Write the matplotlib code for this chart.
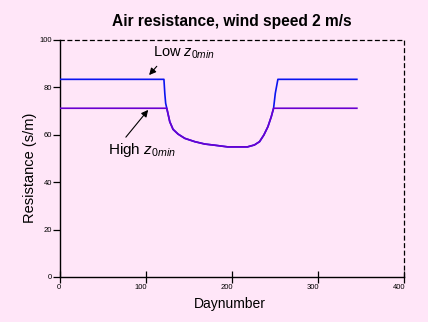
import numpy as np
import matplotlib
matplotlib.use("Agg")
import matplotlib.pyplot as plt
from matplotlib.transforms import ScaledTranslation

# ── Data ─────────────────────────────────────────────────────
low_day = [0, 121, 122, 123, 124.3, 127.8, 131.6, 137.4, 145.2, 156.8, 168.4,
           180, 195, 218, 226, 232, 237, 241.7, 245.6, 248.3, 250.3, 253.3, 345]
low_val = [83.4, 83.4, 77.5, 73.3, 71.2, 65.5, 62.3, 60.3, 58.5, 57.1, 56.1,
           55.6, 54.9, 54.9, 55.7, 57.1, 59.9, 63.4, 67.6, 71.2, 77.5, 83.4, 83.4]

high_day = [0, 124.3, 127.8, 131.6, 137.4, 145.2, 156.8, 168.4,
            180, 195, 218, 226, 232, 237, 241.7, 245.6, 248.3, 345]
high_val = [71.2, 71.2, 65.5, 62.3, 60.3, 58.5, 57.1, 56.1,
            55.6, 54.9, 54.9, 55.7, 57.1, 59.9, 63.4, 67.6, 71.2, 71.2]

x_ticks = [0, 100, 200, 300, 400]
y_ticks = [0, 20, 40, 60, 80, 100]

# ── Style ────────────────────────────────────────────────────
bg = "#ffe6f8"
plt.rcParams.update({
    "font.family": ["Liberation Sans", "DejaVu Sans"],
    "figure.facecolor": bg,
    "axes.facecolor": bg,
    "mathtext.fontset": "custom",
    "mathtext.rm": "Liberation Sans",
    "mathtext.it": "Liberation Sans:italic",
})

fig = plt.figure(figsize=(4.28, 3.22), dpi=100)
ax = fig.add_axes([0.1395, 0.1398, 0.805, 0.736])

ax.plot(low_day, low_val, color="#0a14f0", lw=1.2, zorder=3)
ax.plot(high_day, high_val, color="#6a00d0", lw=1.2, zorder=4)

ax.set_xlim(0, 400)
ax.set_ylim(0, 100)
ax.set_xticks(x_ticks)
ax.set_yticks(y_ticks)
ax.tick_params(axis="x", direction="inout", length=8, width=0.9,
               labelsize=5.5, pad=1)
ax.tick_params(axis="y", direction="out", length=5, width=0.9,
               labelsize=5.5, pad=0.5)
for lab in ax.get_xticklabels():
    lab.set_ha("right")
    lab.set_transform(lab.get_transform() + ScaledTranslation(1 / 100, 0, fig.dpi_scale_trans))

for side in ["left", "bottom"]:
    ax.spines[side].set_linewidth(1.0)
for side in ["top", "right"]:
    ax.spines[side].set_linestyle((0, (3, 3)))
    ax.spines[side].set_linewidth(0.9)

# ── Annotations ──────────────────────────────────────────────
arrow = dict(arrowstyle="-|>", color="black", lw=0.8,
             mutation_scale=10, shrinkA=0, shrinkB=0)
ax.annotate("", xy=(103.8, 85.2), xytext=(112.7, 88.9), arrowprops=arrow)
ax.annotate("", xy=(102.7, 70.5), xytext=(76.8, 59.0), arrowprops=arrow)

ax.text(108, 94.6, r"Low $z_{0min}$", fontsize=10.5, va="center", ha="left")
ax.text(56, 53.6, r"High $z_{0min}$", fontsize=11, va="center", ha="left")

fig.text(0.542, 0.932, "Air resistance, wind speed 2 m/s",
         fontsize=11.2, fontweight="bold", fontstyle="normal",
         ha="center", va="center")
fig.text(0.537, 0.056, "Daynumber", fontsize=10, ha="center", va="center")
fig.text(0.069, 0.478, "Resistance (s/m)", fontsize=10.5, rotation=90,
         ha="center", va="center")

plt.savefig("out.png", dpi=100, facecolor=bg)
